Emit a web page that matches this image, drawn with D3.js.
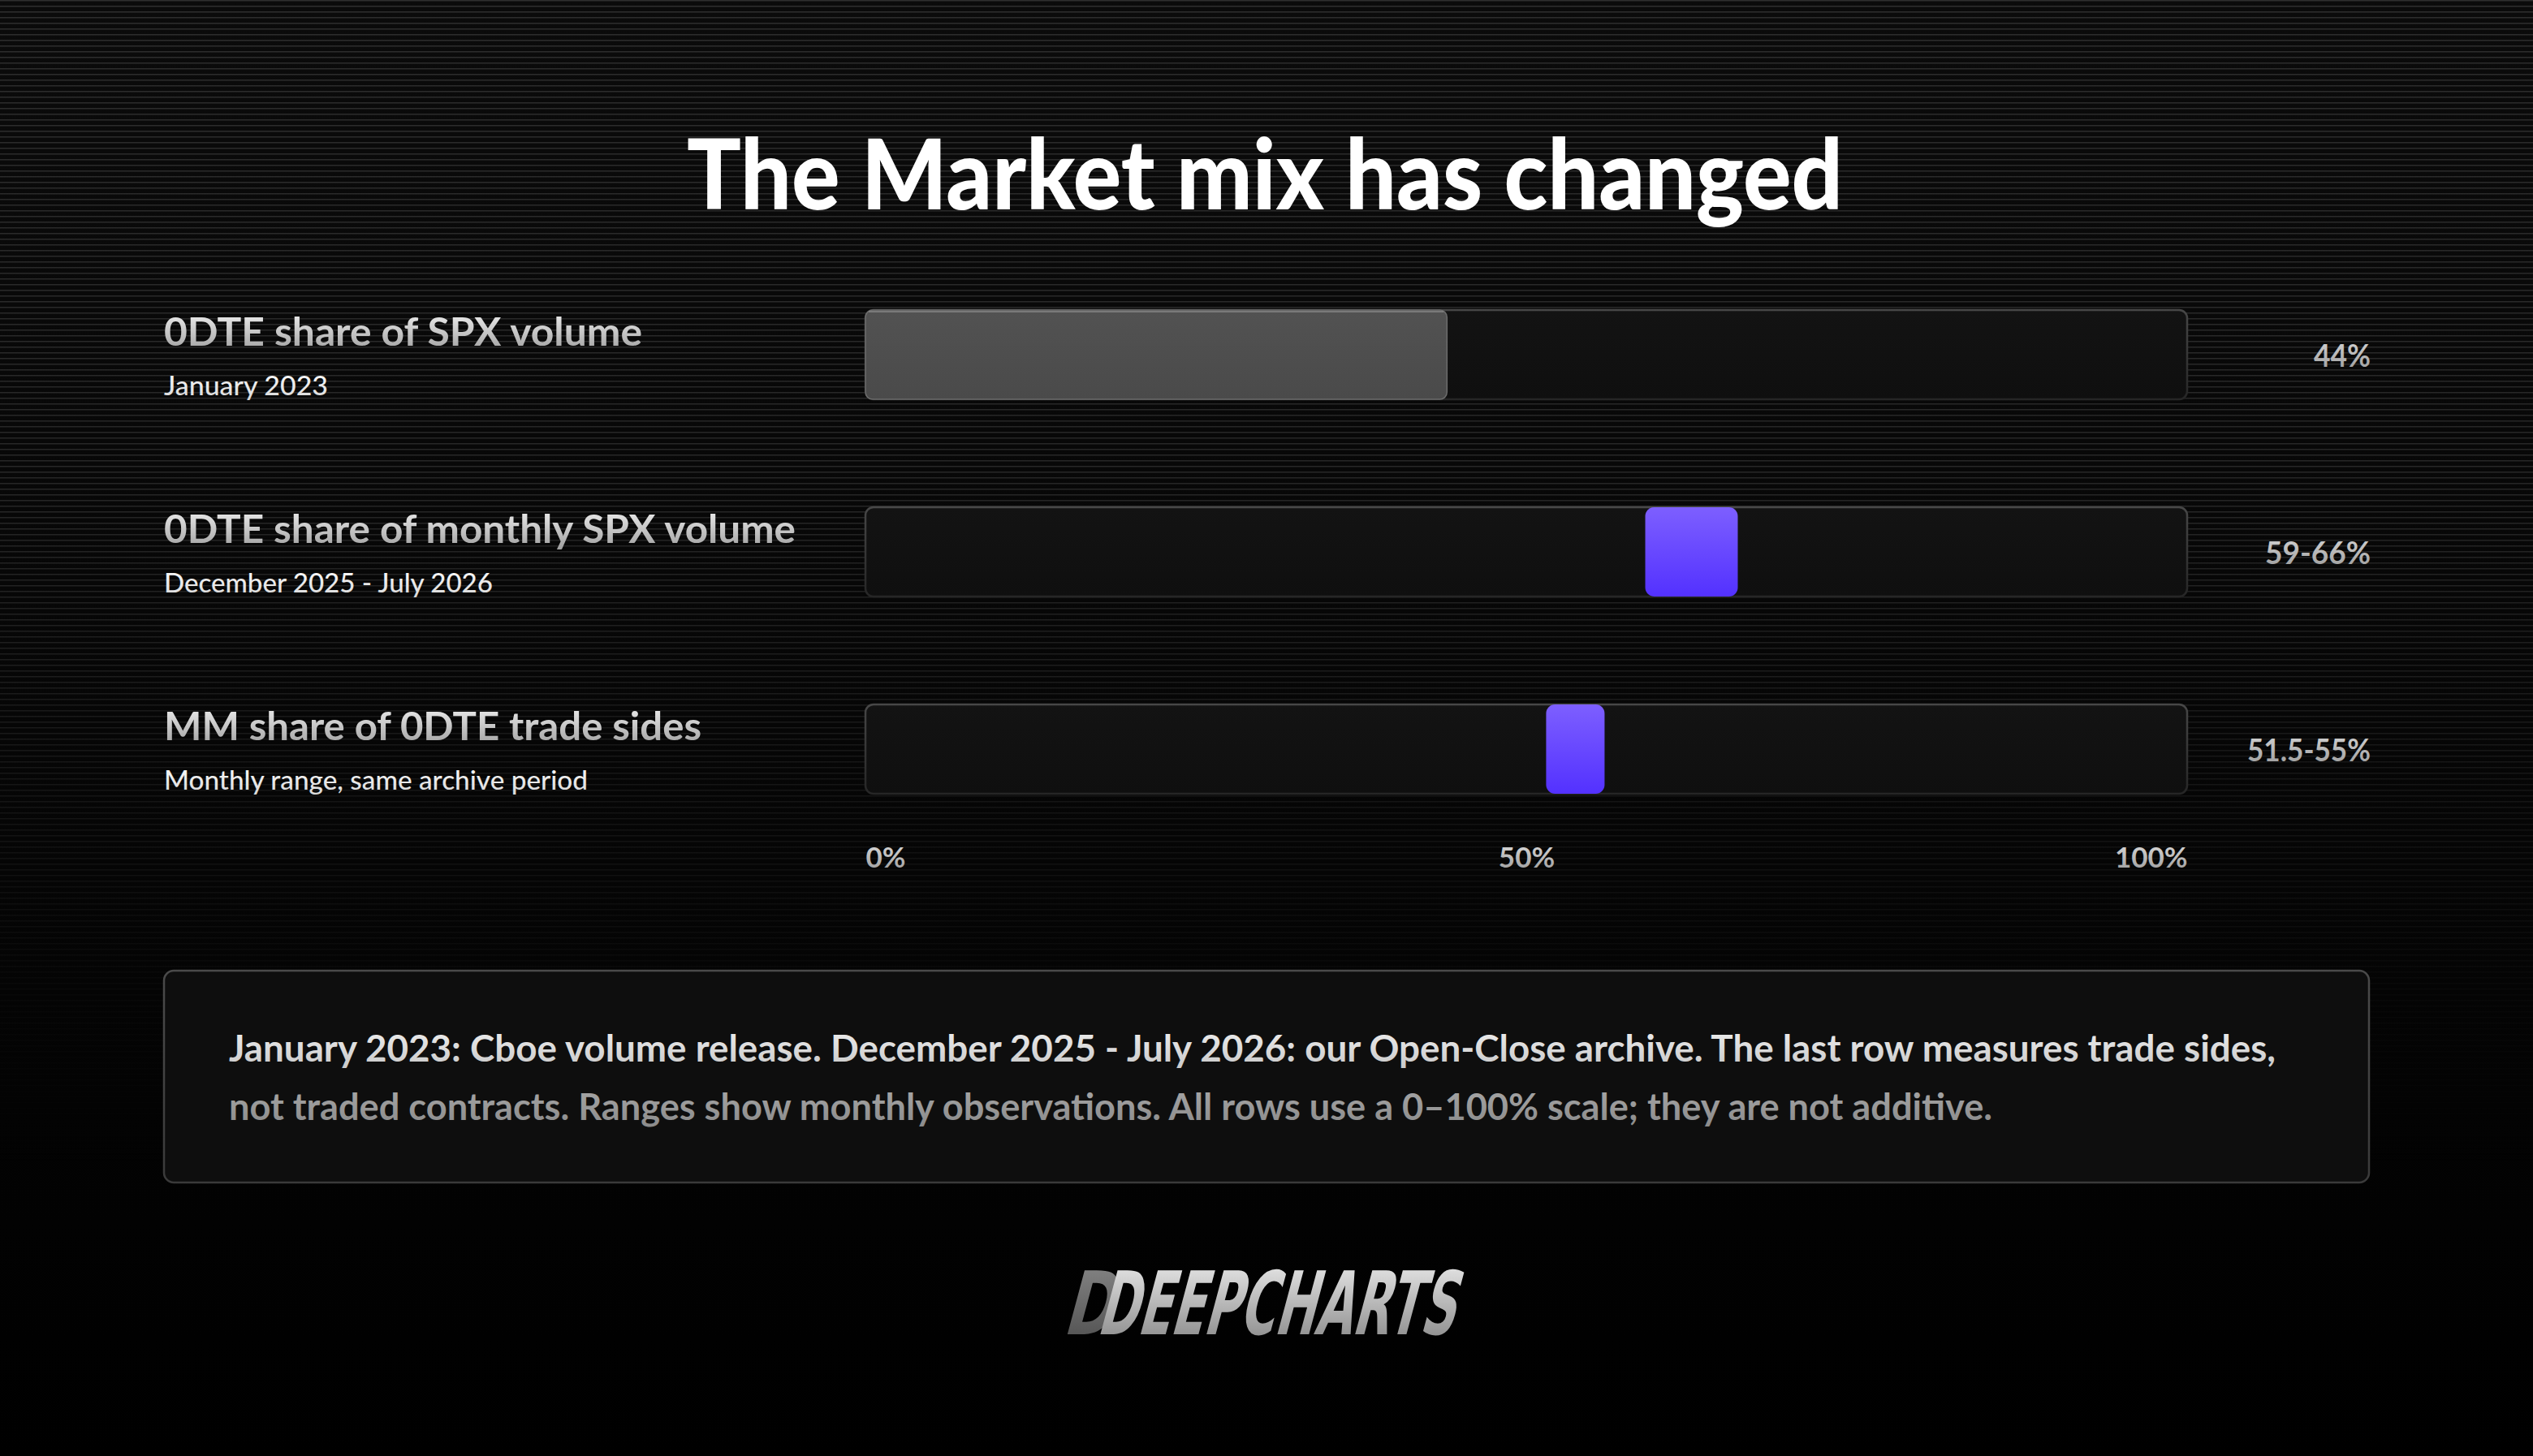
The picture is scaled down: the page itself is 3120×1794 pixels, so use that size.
<!DOCTYPE html>
<html>
<head>
<meta charset="utf-8">
<script src="https://cdn.jsdelivr.net/npm/d3@7"></script>
<style>
  html, body { margin: 0; padding: 0; background: #000; }
  svg { display: block; }
</style>
</head>
<body>
<div id="chart"></div>
<script>
// ---------- DATA ----------
const categories = ["0DTE share of SPX volume", "0DTE share of monthly SPX volume", "MM share of 0DTE trade sides"];
const subtitles = ["January 2023", "December 2025 - July 2026", "Monthly range, same archive period"];
const lowValues = [0, 59, 51.5];
const highValues = [44, 66, 55];
const barKinds = ["fill", "range", "range"];
const valueLabels = ["44%", "59-66%", "51.5-55%"];
const tickValues = [0, 50, 100];
const tickLabels = ["0%", "50%", "100%"];
const titleText = "The Market mix has changed";
const noteLines = [
  "January 2023: Cboe volume release. December 2025 - July 2026: our Open-Close archive. The last row measures trade sides,",
  "not traded contracts. Ranges show monthly observations. All rows use a 0\u2013100% scale; they are not additive."
];
const logoText = "DEEPCHARTS";

// ---------- LAYOUT ----------
const W = 3120, H = 1794;
const FONT = "Lato, 'Open Sans', sans-serif";

const svg = d3.select("#chart").append("svg").attr("width", W).attr("height", H);
const defs = svg.append("defs");

const bgGrad = defs.append("linearGradient").attr("id", "bg").attr("x1", 0).attr("y1", 0).attr("x2", 0).attr("y2", 1);
bgGrad.append("stop").attr("offset", "0%").attr("stop-color", "#0b0b0b");
bgGrad.append("stop").attr("offset", "60%").attr("stop-color", "#050505");
bgGrad.append("stop").attr("offset", "100%").attr("stop-color", "#000");

const pat = defs.append("pattern").attr("id", "scan").attr("width", 8).attr("height", 7).attr("patternUnits", "userSpaceOnUse");
pat.append("rect").attr("x", 0).attr("y", 0).attr("width", 8).attr("height", 1.5).attr("fill", "#2e2e2e");
const fadeGrad = defs.append("linearGradient").attr("id", "fade").attr("x1", 0).attr("y1", 0).attr("x2", 0).attr("y2", 1);
fadeGrad.append("stop").attr("offset", "0%").attr("stop-color", "#fff").attr("stop-opacity", 1);
fadeGrad.append("stop").attr("offset", "35%").attr("stop-color", "#fff").attr("stop-opacity", 0.8);
fadeGrad.append("stop").attr("offset", "68%").attr("stop-color", "#fff").attr("stop-opacity", 0.12);
fadeGrad.append("stop").attr("offset", "80%").attr("stop-color", "#fff").attr("stop-opacity", 0);
const mask = defs.append("mask").attr("id", "scanMask");
mask.append("rect").attr("width", W).attr("height", H).attr("fill", "url(#fade)");

function vGrad(id, top, bottom) {
  const g = defs.append("linearGradient").attr("id", id).attr("x1", 0).attr("y1", 0).attr("x2", 0).attr("y2", 1);
  g.append("stop").attr("offset", "0%").attr("stop-color", top);
  g.append("stop").attr("offset", "100%").attr("stop-color", bottom);
}
vGrad("labelGrad", "#f4f4f4", "#9c9c9c");
vGrad("subGrad", "#ffffff", "#d8d8d8");
vGrad("valGrad", "#d8d8d8", "#9a9a9a");
vGrad("tickGrad", "#e0e0e0", "#9a9a9a");
vGrad("note1Grad", "#f0f0f0", "#c8c8c8");
vGrad("note2Grad", "#a8a8a8", "#8a8a8a");
vGrad("purpleGrad", "#7d5fff", "#5331ff");
vGrad("grayGrad", "#525252", "#4a4a4a");
vGrad("trackStroke", "#474747", "#262626");
vGrad("trackFill", "#131313", "#0f0f0f");
vGrad("logoGrad", "#f0f0f0", "#7e7e7e");
vGrad("logoDark", "#8a8a8a", "#4a4a4a");
vGrad("boxStroke", "#4a4a4a", "#3a3a3a");

svg.append("rect").attr("width", W).attr("height", H).attr("fill", "url(#bg)");
svg.append("rect").attr("width", W).attr("height", H).attr("fill", "url(#scan)").attr("mask", "url(#scanMask)");

// ---------- TITLE ----------
svg.append("text")
  .attr("x", W / 2 - 2).attr("y", 258)
  .attr("text-anchor", "middle")
  .attr("font-family", FONT).attr("font-weight", 900).attr("font-size", 120)
  .attr("fill", "#ffffff")
  .attr("textLength", 1424).attr("lengthAdjust", "spacingAndGlyphs")
  .text(titleText);

// ---------- SCALES ----------
const x = d3.scaleLinear().domain([0, 100]).range([1066, 2694]);
const y = d3.scaleBand().domain(categories).range([382, 978]).paddingInner(0.547).paddingOuter(0);

const rows = categories.map((c, i) => ({
  cat: c, sub: subtitles[i], lo: lowValues[i], hi: highValues[i], kind: barKinds[i], label: valueLabels[i]
}));

const labelWidths = [589, 778, 662];
const subWidths = [202, 405, 522];
const valWidths = [70, 130, 152];

const g = svg.append("g");
const row = g.selectAll("g.row").data(rows).join("g").attr("class", "row");

row.append("rect")
  .attr("x", x(0)).attr("y", d => y(d.cat))
  .attr("width", x(100) - x(0)).attr("height", y.bandwidth())
  .attr("rx", 10)
  .attr("fill", "url(#trackFill)")
  .attr("stroke", "url(#trackStroke)").attr("stroke-width", 2.5);

const minW = 72;
row.append("rect")
  .attr("x", d => x(d.lo)).attr("y", d => y(d.cat))
  .attr("width", d => Math.max(x(d.hi) - x(d.lo), d.kind === "range" ? minW : 0))
  .attr("height", y.bandwidth())
  .attr("rx", d => d.kind === "range" ? 11 : 9)
  .attr("fill", d => d.kind === "range" ? "url(#purpleGrad)" : "url(#grayGrad)")
  .attr("stroke", d => d.kind === "range" ? "none" : "#6c6c6c")
  .attr("stroke-width", 1.5);

row.filter(d => d.kind === "fill").append("rect")
  .attr("x", d => x(d.lo) + 4).attr("y", d => y(d.cat) + 1)
  .attr("width", d => x(d.hi) - x(d.lo) - 8).attr("height", 2)
  .attr("fill", "#8a8a8a").attr("opacity", 0.7);

row.append("text")
  .attr("x", 202).attr("y", d => y(d.cat) + 44)
  .attr("font-family", FONT).attr("font-weight", 700).attr("font-size", 47)
  .attr("fill", "url(#labelGrad)")
  .attr("textLength", (d, i) => labelWidths[i]).attr("lengthAdjust", "spacingAndGlyphs")
  .text(d => d.cat);

row.append("text")
  .attr("x", 202).attr("y", d => y(d.cat) + 105)
  .attr("font-family", FONT).attr("font-weight", 500).attr("font-size", 33)
  .attr("fill", "url(#subGrad)")
  .attr("textLength", (d, i) => subWidths[i]).attr("lengthAdjust", "spacingAndGlyphs")
  .text(d => d.sub);

row.append("text")
  .attr("x", 2920).attr("y", d => y(d.cat) + y.bandwidth() / 2 + 15)
  .attr("text-anchor", "end")
  .attr("font-family", FONT).attr("font-weight", 700).attr("font-size", 38)
  .attr("fill", "url(#valGrad)")
  .attr("textLength", (d, i) => valWidths[i]).attr("lengthAdjust", "spacingAndGlyphs")
  .text(d => d.label);

// ---------- AXIS ----------
const axis = d3.axisBottom(x).tickValues(tickValues).tickSize(0).tickPadding(0)
  .tickFormat((d, i) => tickLabels[i]);
const axG = svg.append("g").attr("transform", "translate(0,1043)").call(axis);
axG.select(".domain").remove();
axG.selectAll("text")
  .attr("dy", "0")
  .attr("y", 26)
  .attr("font-family", FONT).attr("font-weight", 700).attr("font-size", 35)
  .attr("fill", "url(#tickGrad)")
  .attr("text-anchor", (d, i) => i === 0 ? "start" : (i === tickValues.length - 1 ? "end" : "middle"));

// ---------- NOTE BOX ----------
svg.append("rect")
  .attr("x", 202).attr("y", 1196).attr("width", 2716).attr("height", 261)
  .attr("rx", 12)
  .attr("fill", "#0e0e0e")
  .attr("stroke", "url(#boxStroke)").attr("stroke-width", 2.5);

const noteWidths = [2521, 2172];
const noteFills = ["url(#note1Grad)", "url(#note2Grad)"];
svg.selectAll("text.note").data(noteLines).join("text")
  .attr("class", "note")
  .attr("x", 282).attr("y", (d, i) => 1308 + i * 72)
  .attr("font-family", FONT).attr("font-weight", 700).attr("font-size", 45)
  .attr("fill", (d, i) => noteFills[i])
  .attr("textLength", (d, i) => noteWidths[i]).attr("lengthAdjust", "spacingAndGlyphs")
  .text(d => d);

// ---------- LOGO ----------
const logo = svg.append("g").attr("transform", "translate(1308,1644) skewX(-15)");
logo.append("text")
  .attr("x", 0).attr("y", 0)
  .attr("font-family", "'DejaVu Sans Condensed', 'DejaVu Sans', sans-serif")
  .attr("font-weight", 700).attr("font-size", 108)
  .attr("fill", "url(#logoDark)")
  .attr("textLength", 62).attr("lengthAdjust", "spacingAndGlyphs")
  .text("D");
logo.append("text")
  .attr("x", 42).attr("y", 0)
  .attr("font-family", "'DejaVu Sans Condensed', 'DejaVu Sans', sans-serif")
  .attr("font-weight", 700).attr("font-size", 108)
  .attr("fill", "url(#logoGrad)")
  .attr("textLength", 440).attr("lengthAdjust", "spacingAndGlyphs")
  .text(logoText);
</script>
</body>
</html>
